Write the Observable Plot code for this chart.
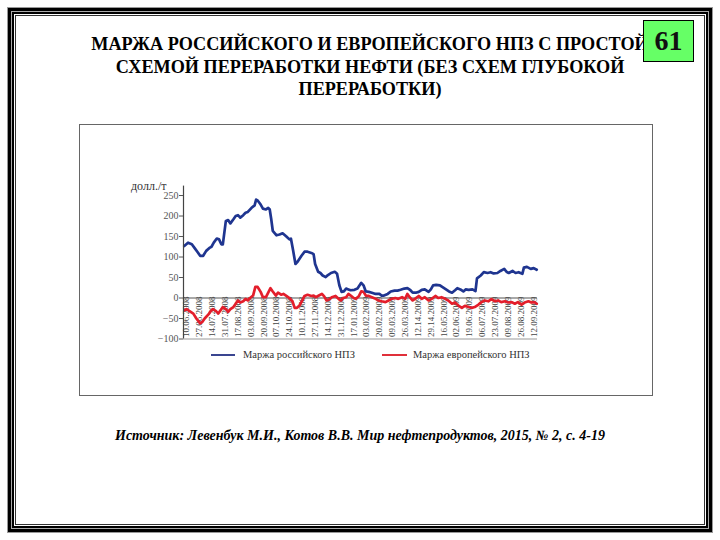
<!DOCTYPE html>
<html>
<head>
<meta charset="utf-8">
<script src="https://cdn.jsdelivr.net/npm/d3@7"></script>
<script src="https://cdn.jsdelivr.net/npm/@observablehq/plot@0.6"></script>
<style>
  html, body { margin: 0; padding: 0; background: #fff; }
  #page { position: relative; width: 720px; height: 540px; overflow: hidden; background: #fff; font-family: "Liberation Serif", "Times New Roman", Times, "DejaVu Serif", serif; }
  .fr { position: absolute; box-sizing: border-box; }
  #title { position: absolute; left: 40px; width: 660px; top: 33px; text-align: center; font-weight: bold; font-size: 18.2px; line-height: 22.5px; color: #000; }
  #badge { position: absolute; left: 643px; top: 20px; width: 51px; height: 42px; box-sizing: border-box; background: #66ff66; border: 1px solid #000; text-align: center; font-weight: bold; font-size: 28px; line-height: 40px; color: #111; }
  #box { position: absolute; left: 79px; top: 124px; width: 574px; height: 272px; box-sizing: border-box; border: 1.5px solid #666; }
  #chart { position: absolute; left: 80px; top: 125px; }
  #unit { position: absolute; left: 131px; top: 179px; font-size: 12px; color: #333; }
  .leg { position: absolute; top: 348px; font-size: 10.5px; color: #333; line-height: 13px; }
  .sw { position: absolute; height: 2px; top: 354px; }
  #caption { position: absolute; left: 0; width: 720px; top: 427px; text-align: center; font-weight: bold; font-style: italic; font-size: 14px; line-height: 18px; color: #000; }
</style>
</head>
<body>
<div id="page">
  <div class="fr" style="left:7px;top:7px;width:706px;height:526px;border:1px solid #999;"></div>
  <div class="fr" style="left:8px;top:8px;width:704px;height:524px;border:3px solid #000;"></div>
  <div class="fr" style="left:11px;top:11px;width:698px;height:518px;border:1px solid #aaa;"></div>
  <div class="fr" style="left:12px;top:12px;width:696px;height:516px;border:2px solid #000;"></div>
  <div class="fr" style="left:15px;top:15px;width:690px;height:510px;border:1px solid #333;"></div>

  <div id="title">МАРЖА РОССИЙСКОГО И ЕВРОПЕЙСКОГО НПЗ С ПРОСТОЙ<br>СХЕМОЙ ПЕРЕРАБОТКИ НЕФТИ (БЕЗ СХЕМ ГЛУБОКОЙ<br>ПЕРЕРАБОТКИ)</div>
  <div id="badge">61</div>

  <div id="box"></div>
  <div id="chart"></div>
  <div id="unit">долл./т</div>

  <div class="sw" style="left:211px;width:24px;background:#3a4590;"></div>
  <div class="leg" style="left:243px;">Маржа российского НПЗ</div>
  <div class="sw" style="left:382px;width:25px;background:#e0303a;"></div>
  <div class="leg" style="left:413px;">Маржа европейского НПЗ</div>

  <div id="caption">Источник: Левенбук М.И., Котов В.В. Мир нефтепродуктов, 2015, № 2, с. 4-19</div>
</div>
<script>
// Tick labels (every 17 days starting 10.06.2008, as printed in the source)
const tickLabels = ["10.06.2008","27.06.2008","14.07.2008","31.07.2008","17.08.2008","03.09.2008","20.09.2008","07.10.2008","24.10.2008","10.11.2008","27.11.2008","14.12.2008","31.12.2008","17.01.2009","03.02.2009","20.02.2009","09.03.2009","26.03.2009","12.14.2009","29.14.2009","16.05.2009","02.06.2009","19.06.2009","06.07.2009","23.07.2009","09.08.2009","26.08.2009","12.09.2009"];
const tickIntervalDays = 17;
const yTicks = [-100, -50, 0, 50, 100, 150, 200, 250];

// Russian refinery margin (days since 10.06.2008, USD/t)
const blueDays = [-3,2,7,11,15,18,22,26,31,33,36,40,43,46,48,52,55,58,62,65,68,71,75,78,81,86,90,92,94,98,101,105,108,110,112,114,119,123,127,132,136,138,141,144,147,152,156,160,165,168,170,174,177,180,184,187,191,196,199,202,205,208,211,214,217,222,226,231,234,237,241,245,250,255,258,261,266,270,275,279,283,288,292,296,299,303,307,311,315,320,323,326,330,335,338,343,347,351,355,358,362,366,369,373,378,382,384,389,393,398,402,406,411,415,420,423,426,431,435,439,444,446,450,455,459,463];
const blueValues = [127,135,131,121,111,103,103,115,123,125,135,145,143,131,131,188,190,182,192,200,202,196,202,208,210,220,226,240,238,228,218,216,220,216,192,164,153,155,158,150,143,145,115,83,89,103,113,113,110,107,83,64,61,55,51,56,61,64,59,31,15,16,23,21,19,20,23,37,31,16,15,13,10,10,6,6,10,16,18,18,20,23,24,19,13,13,15,20,21,15,21,31,32,31,27,21,16,13,19,24,21,16,21,20,21,17,48,55,63,61,63,60,61,66,71,64,61,66,61,63,59,74,76,71,73,69];

// European refinery margin (days since 10.06.2008, USD/t)
const redDays = [-3,0,4,9,13,18,21,24,29,32,35,39,42,45,48,52,55,58,62,65,68,71,75,78,81,84,88,91,94,98,101,105,108,111,114,118,121,125,128,132,136,140,143,146,149,153,156,160,165,168,171,175,179,182,185,189,192,197,201,204,207,211,214,217,221,224,228,231,234,237,241,245,250,254,258,263,267,271,276,280,285,289,292,295,299,302,307,311,315,320,324,329,333,337,342,346,351,355,359,364,368,373,377,381,386,390,394,399,403,408,412,416,421,425,430,434,438,443,447,452,456,460,463];
const redValues = [-30,-27,-32,-38,-50,-62,-58,-50,-40,-32,-27,-32,-38,-30,-22,-27,-34,-27,-22,-14,-6,-11,-8,-2,-6,0,6,27,27,15,2,2,13,24,16,6,13,8,10,5,0,-8,-24,-24,-19,-6,5,8,5,6,2,6,10,4,-6,-3,2,5,-2,-6,0,2,10,6,0,-2,5,16,15,6,5,2,-2,-6,-8,-10,-6,-2,0,-2,2,-2,10,2,-6,-2,5,-2,2,-6,-2,5,0,2,-2,-6,-14,-11,-18,-24,-19,-22,-24,-22,-16,-10,-6,-8,-3,-8,-6,-10,-8,-11,-10,-14,-10,-16,-11,-8,-11,-10,-14];

const blue = blueDays.map((d, i) => ({day: d, value: blueValues[i]}));
const red = redDays.map((d, i) => ({day: d, value: redValues[i]}));
const ticks = tickLabels.map((t, i) => ({day: i * tickIntervalDays, label: t}));

const xMin = -4, xMax = 464, yMin = -100, yMax = 273;

const chart = Plot.plot({
  width: 572,
  height: 270,
  marginLeft: 103,
  marginRight: 115,
  marginTop: 60.6,
  marginBottom: 56.5,
  x: {domain: [xMin, xMax], axis: null},
  y: {domain: [yMin, yMax], axis: null},
  style: {background: "transparent", fontFamily: "'Liberation Serif', 'Times New Roman', Times, 'DejaVu Serif', serif", overflow: "visible"},
  marks: [
    Plot.ruleY([yMin], {stroke: "#999", strokeWidth: 1}),
    Plot.text(ticks, {x: "day", y: yMin, text: "label", rotate: -90, textAnchor: "start", dy: -2, fontSize: 9, fill: "#444"}),
    Plot.ruleY([0], {stroke: "#555", strokeWidth: 1.2}),
    Plot.line(red, {x: "day", y: "value", stroke: "#e31e2b", strokeWidth: 2.7, strokeLinejoin: "round"}),
    Plot.line(blue, {x: "day", y: "value", stroke: "#1f3590", strokeWidth: 2.7, strokeLinejoin: "round"}),
    Plot.ruleX([xMin], {y1: yMin, y2: yMax, stroke: "#444", strokeWidth: 1.2}),
    Plot.axisY({ticks: yTicks, anchor: "left", label: null, tickSize: 4, tickPadding: 1, fontSize: 10, color: "#555"})
  ]
});
document.getElementById("chart").appendChild(chart);
</script>
</body>
</html>
